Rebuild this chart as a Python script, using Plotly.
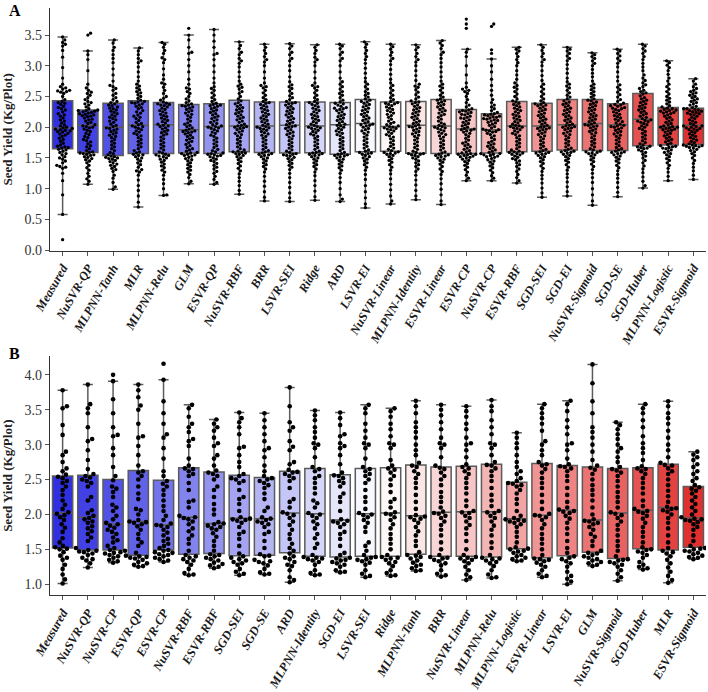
import plotly.graph_objects as go
import colorsys

# ---------------- categories ----------------
labels_A = ["Measured", "NuSVR-QP", "MLPNN-Tanh", "MLR", "MLPNN-Relu", "GLM", "ESVR-QP",
            "NuSVR-RBF", "BRR", "LSVR-SEI", "Ridge", "ARD", "LSVR-EI", "NuSVR-Linear",
            "MLPNN-Identity", "ESVR-Linear", "ESVR-CP", "NuSVR-CP", "ESVR-RBF", "SGD-SEI",
            "SGD-EI", "NuSVR-Sigmoid", "SGD-SE", "SGD-Huber", "MLPNN-Logistic", "ESVR-Sigmoid"]
labels_B = ["Measured", "NuSVR-QP", "NuSVR-CP", "ESVR-QP", "ESVR-CP", "NuSVR-RBF", "ESVR-RBF",
            "SGD-SEI", "SGD-SE", "ARD", "MLPNN-Identity", "SGD-EI", "LSVR-SEI", "Ridge",
            "MLPNN-Tanh", "BRR", "NuSVR-Linear", "MLPNN-Relu", "MLPNN-Logistic", "ESVR-Linear",
            "LSVR-EI", "GLM", "NuSVR-Sigmoid", "SGD-Huber", "MLR", "ESVR-Sigmoid"]

# ---------------- box statistics ----------------
lo_A = [0.58, 1.07, 0.99, 0.70, 0.89, 1.08, 1.07, 0.91, 0.80, 0.79, 0.81, 0.79, 0.685, 0.75,
        0.82, 0.74, 1.13, 1.13, 1.09, 0.86, 0.88, 0.73, 0.87, 1.01, 1.13, 1.15]
q1_A = [1.65, 1.59, 1.54, 1.57, 1.57, 1.58, 1.57, 1.60, 1.59, 1.58, 1.585, 1.56, 1.60, 1.61,
        1.575, 1.57, 1.57, 1.58, 1.60, 1.61, 1.63, 1.62, 1.62, 1.70, 1.71, 1.72]
med_A = [1.985, 2.03, 2.00, 2.03, 2.04, 1.96, 2.01, 2.02, 2.02, 2.03, 2.02, 2.04, 2.06, 2.01,
         2.03, 2.02, 1.97, 1.96, 2.02, 2.02, 2.04, 2.06, 2.04, 2.13, 2.01, 2.03]
q3_A = [2.43, 2.28, 2.39, 2.43, 2.40, 2.37, 2.38, 2.44, 2.41, 2.41, 2.41, 2.40, 2.45, 2.41,
        2.42, 2.45, 2.29, 2.22, 2.42, 2.39, 2.45, 2.45, 2.38, 2.55, 2.32, 2.31]
hi_A = [3.47, 3.24, 3.42, 3.29, 3.38, 3.50, 3.59, 3.39, 3.35, 3.36, 3.34, 3.35, 3.39, 3.35,
        3.34, 3.41, 3.27, 3.11, 3.30, 3.34, 3.30, 3.21, 3.27, 3.35, 3.08, 2.79]

lo_B = [1.01, 1.24, 1.31, 1.25, 1.32, 1.13, 1.23, 1.13, 1.14, 1.03, 1.13, 1.17, 1.10, 1.12,
        1.19, 1.11, 1.06, 1.09, 1.33, 1.10, 1.00, 1.26, 1.05, 1.21, 1.02, 1.36]
q1_B = [1.52, 1.49, 1.49, 1.415, 1.49, 1.43, 1.44, 1.41, 1.415, 1.45, 1.40, 1.39, 1.40, 1.40,
        1.43, 1.40, 1.40, 1.39, 1.51, 1.38, 1.41, 1.46, 1.37, 1.51, 1.49, 1.53]
med_B = [2.02, 1.96, 1.86, 1.90, 1.85, 1.96, 1.87, 1.945, 1.94, 2.02, 2.01, 1.92, 2.01, 2.02,
         1.98, 2.03, 2.04, 2.04, 1.94, 1.99, 2.06, 1.92, 2.02, 2.06, 2.10, 1.95]
q3_B = [2.55, 2.56, 2.50, 2.63, 2.49, 2.67, 2.61, 2.56, 2.53, 2.62, 2.66, 2.57, 2.66, 2.67,
        2.71, 2.68, 2.69, 2.72, 2.46, 2.73, 2.70, 2.68, 2.66, 2.67, 2.72, 2.40]
hi_B = [3.78, 3.86, 3.91, 3.86, 3.93, 3.57, 3.36, 3.46, 3.45, 3.82, 3.49, 3.46, 3.57, 3.52,
        3.63, 3.57, 3.55, 3.64, 3.17, 3.58, 3.63, 4.15, 3.32, 3.58, 3.62, 2.90]

# ---------------- individual points, panel A ----------------
a_measured = [0.17, 0.58, 0.90, 1.13, 1.25, 1.33, 1.35, 1.36, 1.38, 1.42, 1.45, 1.48, 1.50, 1.52, 1.55, 1.57, 1.59, 1.61, 1.63, 1.64,
              1.66, 1.67, 1.68, 1.69, 1.71, 1.74, 1.77, 1.80, 1.82, 1.85, 1.87, 1.89, 1.90, 1.92, 1.93, 1.94, 1.95, 1.96, 1.97, 1.98,
              1.99, 2.00, 2.02, 2.04, 2.07, 2.10, 2.12, 2.15, 2.18, 2.20, 2.22, 2.25, 2.28, 2.30, 2.32, 2.34, 2.37, 2.39, 2.40, 2.42,
              2.45, 2.50, 2.55, 2.57, 2.58, 2.59, 2.60, 2.62, 2.64, 2.66, 2.70, 2.80, 2.97, 3.14, 3.25, 3.32, 3.35, 3.38, 3.42, 3.47]
a_nusvr_qp = [1.07, 1.12, 1.16, 1.20, 1.25, 1.30, 1.34, 1.38, 1.42, 1.45, 1.47, 1.49, 1.51, 1.52, 1.54, 1.55, 1.56, 1.57, 1.58, 1.59,
              1.60, 1.62, 1.65, 1.68, 1.70, 1.73, 1.76, 1.78, 1.80, 1.83, 1.85, 1.88, 1.90, 1.93, 1.95, 1.97, 1.99, 2.00, 2.01, 2.02,
              2.04, 2.06, 2.08, 2.10, 2.12, 2.13, 2.15, 2.17, 2.18, 2.19, 2.20, 2.21, 2.22, 2.23, 2.24, 2.25, 2.26, 2.27, 2.27, 2.28,
              2.30, 2.33, 2.36, 2.38, 2.40, 2.42, 2.45, 2.48, 2.52, 2.55, 2.57, 2.60, 2.64, 2.70, 2.92, 3.10, 3.18, 3.24, 3.50, 3.53]
a_mlpnn_tanh = [0.99, 1.03, 1.10, 1.17, 1.22, 1.28, 1.31, 1.33, 1.36, 1.38, 1.40, 1.42, 1.44, 1.46, 1.48, 1.49, 1.50, 1.51, 1.52, 1.53,
                1.55, 1.57, 1.59, 1.62, 1.65, 1.68, 1.71, 1.74, 1.77, 1.80, 1.83, 1.85, 1.87, 1.89, 1.91, 1.93, 1.95, 1.97, 1.98, 1.99,
                2.01, 2.03, 2.05, 2.08, 2.10, 2.12, 2.14, 2.16, 2.18, 2.20, 2.22, 2.24, 2.26, 2.28, 2.30, 2.31, 2.33, 2.35, 2.36, 2.38,
                2.40, 2.42, 2.45, 2.48, 2.52, 2.55, 2.60, 2.63, 2.66, 2.68, 2.75, 2.85, 2.95, 3.05, 3.12, 3.18, 3.25, 3.30, 3.37, 3.42]
a_mlr = [0.70, 0.78, 0.88, 0.97, 1.05, 1.14, 1.22, 1.27, 1.29, 1.31, 1.35, 1.39, 1.42, 1.45, 1.48, 1.50, 1.52, 1.54, 1.55, 1.56,
         1.58, 1.60, 1.62, 1.65, 1.68, 1.71, 1.74, 1.77, 1.80, 1.83, 1.86, 1.88, 1.90, 1.92, 1.94, 1.96, 1.98, 2.00, 2.01, 2.02,
         2.04, 2.06, 2.08, 2.11, 2.14, 2.16, 2.18, 2.20, 2.23, 2.25, 2.27, 2.30, 2.32, 2.34, 2.36, 2.38, 2.39, 2.40, 2.41, 2.42,
         2.44, 2.47, 2.50, 2.53, 2.56, 2.58, 2.61, 2.64, 2.67, 2.70, 2.75, 2.82, 2.90, 2.98, 3.05, 3.08, 3.12, 3.18, 3.24, 3.29]
a_mlpnn_relu = [0.89, 0.90, 1.00, 1.08, 1.15, 1.22, 1.27, 1.30, 1.34, 1.37, 1.40, 1.43, 1.46, 1.48, 1.50, 1.52, 1.53, 1.54, 1.55, 1.56,
                1.58, 1.60, 1.63, 1.66, 1.69, 1.72, 1.75, 1.78, 1.81, 1.84, 1.87, 1.89, 1.91, 1.93, 1.95, 1.97, 1.99, 2.01, 2.02, 2.03,
                2.05, 2.07, 2.09, 2.11, 2.13, 2.15, 2.17, 2.19, 2.21, 2.23, 2.25, 2.27, 2.29, 2.31, 2.33, 2.35, 2.36, 2.37, 2.38, 2.39,
                2.41, 2.44, 2.47, 2.50, 2.55, 2.60, 2.65, 2.70, 2.72, 2.78, 2.85, 2.95, 3.05, 3.10, 3.13, 3.20, 3.25, 3.30, 3.35, 3.38]
a_glm = [1.08, 1.12, 1.18, 1.23, 1.27, 1.30, 1.33, 1.36, 1.39, 1.42, 1.45, 1.47, 1.49, 1.51, 1.53, 1.54, 1.55, 1.56, 1.57, 1.58,
         1.59, 1.61, 1.63, 1.65, 1.67, 1.70, 1.72, 1.75, 1.77, 1.79, 1.81, 1.83, 1.85, 1.87, 1.89, 1.91, 1.92, 1.93, 1.94, 1.95,
         1.97, 1.99, 2.01, 2.03, 2.05, 2.07, 2.10, 2.13, 2.16, 2.19, 2.21, 2.23, 2.25, 2.27, 2.29, 2.31, 2.33, 2.34, 2.35, 2.36,
         2.38, 2.40, 2.43, 2.46, 2.50, 2.55, 2.58, 2.62, 2.64, 2.70, 2.78, 2.90, 3.00, 3.10, 3.20, 3.22, 3.30, 3.42, 3.50, 3.61]
a_esvr_qp = [1.07, 1.10, 1.15, 1.20, 1.25, 1.28, 1.32, 1.35, 1.38, 1.41, 1.44, 1.46, 1.48, 1.50, 1.52, 1.53, 1.54, 1.55, 1.56, 1.57,
             1.58, 1.60, 1.62, 1.64, 1.67, 1.70, 1.73, 1.76, 1.79, 1.82, 1.85, 1.87, 1.90, 1.92, 1.94, 1.96, 1.98, 1.99, 2.00, 2.01,
             2.02, 2.04, 2.06, 2.08, 2.10, 2.12, 2.14, 2.16, 2.18, 2.20, 2.22, 2.24, 2.26, 2.28, 2.30, 2.32, 2.34, 2.35, 2.36, 2.37,
             2.39, 2.42, 2.45, 2.48, 2.52, 2.56, 2.60, 2.63, 2.66, 2.72, 2.80, 2.90, 3.00, 3.10, 3.18, 3.20, 3.30, 3.40, 3.50, 3.59]
a_nusvr_rbf = [0.91, 0.97, 1.05, 1.12, 1.18, 1.24, 1.29, 1.33, 1.37, 1.41, 1.44, 1.47, 1.50, 1.52, 1.54, 1.56, 1.57, 1.58, 1.59, 1.60,
               1.61, 1.63, 1.65, 1.68, 1.71, 1.74, 1.77, 1.80, 1.83, 1.86, 1.88, 1.90, 1.92, 1.94, 1.96, 1.98, 1.99, 2.00, 2.01, 2.02,
               2.03, 2.05, 2.08, 2.10, 2.12, 2.14, 2.16, 2.18, 2.20, 2.22, 2.24, 2.26, 2.28, 2.30, 2.32, 2.34, 2.36, 2.38, 2.40, 2.43,
               2.46, 2.50, 2.55, 2.58, 2.62, 2.65, 2.67, 2.70, 2.75, 2.82, 2.90, 2.98, 3.04, 3.08, 3.12, 3.18, 3.22, 3.28, 3.33, 3.39]
a_brr = [0.80, 0.86, 0.95, 1.04, 1.12, 1.20, 1.27, 1.32, 1.36, 1.39, 1.42, 1.45, 1.48, 1.50, 1.52, 1.54, 1.55, 1.56, 1.57, 1.58,
         1.60, 1.62, 1.64, 1.67, 1.70, 1.73, 1.76, 1.79, 1.82, 1.85, 1.87, 1.89, 1.91, 1.93, 1.95, 1.97, 1.98, 1.99, 2.00, 2.01,
         2.03, 2.05, 2.07, 2.09, 2.11, 2.13, 2.15, 2.17, 2.19, 2.21, 2.23, 2.25, 2.27, 2.29, 2.31, 2.33, 2.35, 2.37, 2.39, 2.40,
         2.42, 2.45, 2.48, 2.52, 2.56, 2.60, 2.64, 2.66, 2.68, 2.72, 2.80, 2.90, 3.00, 3.06, 3.10, 3.15, 3.20, 3.25, 3.30, 3.35]
a_lsvr_sei = [0.79, 0.85, 0.93, 1.02, 1.10, 1.18, 1.25, 1.31, 1.35, 1.38, 1.41, 1.44, 1.47, 1.49, 1.51, 1.53, 1.54, 1.55, 1.56, 1.57,
              1.59, 1.61, 1.63, 1.66, 1.69, 1.72, 1.75, 1.78, 1.81, 1.84, 1.86, 1.88, 1.90, 1.92, 1.94, 1.96, 1.98, 2.00, 2.01, 2.02,
              2.04, 2.06, 2.08, 2.10, 2.12, 2.14, 2.16, 2.18, 2.20, 2.22, 2.24, 2.26, 2.28, 2.30, 2.32, 2.34, 2.36, 2.38, 2.39, 2.40,
              2.42, 2.45, 2.48, 2.51, 2.55, 2.59, 2.63, 2.66, 2.69, 2.74, 2.82, 2.92, 3.00, 3.08, 3.12, 3.18, 3.22, 3.28, 3.32, 3.36]
a_ridge = [0.81, 0.87, 0.96, 1.05, 1.13, 1.21, 1.27, 1.32, 1.36, 1.39, 1.42, 1.45, 1.48, 1.50, 1.52, 1.54, 1.55, 1.56, 1.57, 1.58,
           1.59, 1.61, 1.64, 1.67, 1.70, 1.73, 1.76, 1.79, 1.82, 1.85, 1.87, 1.89, 1.91, 1.93, 1.95, 1.97, 1.98, 1.99, 2.00, 2.01,
           2.03, 2.05, 2.07, 2.09, 2.11, 2.13, 2.15, 2.17, 2.19, 2.21, 2.23, 2.25, 2.27, 2.29, 2.31, 2.33, 2.35, 2.37, 2.39, 2.40,
           2.42, 2.45, 2.48, 2.52, 2.56, 2.60, 2.64, 2.66, 2.68, 2.72, 2.80, 2.90, 3.00, 3.06, 3.10, 3.14, 3.20, 3.25, 3.30, 3.34]
a_ard = [0.79, 0.83, 0.90, 1.00, 1.10, 1.18, 1.25, 1.30, 1.34, 1.37, 1.40, 1.43, 1.46, 1.48, 1.50, 1.52, 1.53, 1.54, 1.55, 1.56,
         1.57, 1.59, 1.62, 1.65, 1.68, 1.71, 1.74, 1.77, 1.80, 1.83, 1.86, 1.88, 1.90, 1.92, 1.94, 1.96, 1.98, 2.00, 2.02, 2.03,
         2.05, 2.07, 2.09, 2.11, 2.13, 2.15, 2.17, 2.19, 2.21, 2.23, 2.25, 2.27, 2.29, 2.30, 2.31, 2.32, 2.34, 2.36, 2.38, 2.39,
         2.41, 2.44, 2.48, 2.52, 2.55, 2.58, 2.62, 2.66, 2.70, 2.74, 2.80, 2.90, 3.00, 3.08, 3.12, 3.18, 3.22, 3.28, 3.32, 3.35]
a_lsvr_ei = [0.69, 0.75, 0.85, 0.95, 1.05, 1.15, 1.23, 1.30, 1.35, 1.39, 1.42, 1.45, 1.48, 1.50, 1.52, 1.54, 1.56, 1.57, 1.58, 1.59,
             1.61, 1.63, 1.66, 1.69, 1.72, 1.75, 1.78, 1.81, 1.84, 1.87, 1.90, 1.92, 1.94, 1.96, 1.98, 2.00, 2.02, 2.03, 2.04, 2.05,
             2.07, 2.09, 2.11, 2.13, 2.15, 2.17, 2.19, 2.21, 2.23, 2.25, 2.27, 2.29, 2.31, 2.33, 2.35, 2.37, 2.39, 2.41, 2.42, 2.44,
             2.46, 2.49, 2.52, 2.55, 2.58, 2.62, 2.66, 2.70, 2.74, 2.80, 2.88, 2.96, 3.04, 3.10, 3.15, 3.20, 3.25, 3.30, 3.35, 3.39]
a_nusvr_linear = [0.75, 0.80, 0.88, 0.98, 1.07, 1.16, 1.24, 1.30, 1.35, 1.39, 1.43, 1.46, 1.49, 1.52, 1.54, 1.56, 1.57, 1.58, 1.59, 1.60,
                  1.62, 1.64, 1.66, 1.69, 1.72, 1.75, 1.78, 1.81, 1.84, 1.86, 1.88, 1.90, 1.92, 1.94, 1.96, 1.97, 1.98, 1.99, 2.00, 2.01,
                  2.02, 2.04, 2.06, 2.08, 2.10, 2.13, 2.16, 2.19, 2.21, 2.23, 2.25, 2.27, 2.29, 2.31, 2.33, 2.35, 2.37, 2.38, 2.39, 2.40,
                  2.42, 2.45, 2.48, 2.52, 2.56, 2.60, 2.64, 2.68, 2.72, 2.78, 2.86, 2.94, 3.02, 3.08, 3.12, 3.17, 3.22, 3.27, 3.31, 3.35]
a_mlpnn_identity = [0.82, 0.88, 0.97, 1.06, 1.14, 1.22, 1.28, 1.32, 1.36, 1.39, 1.42, 1.45, 1.48, 1.50, 1.52, 1.54, 1.55, 1.56, 1.57, 1.57,
                    1.59, 1.61, 1.64, 1.67, 1.70, 1.73, 1.76, 1.79, 1.82, 1.85, 1.87, 1.89, 1.91, 1.93, 1.95, 1.97, 1.99, 2.00, 2.01, 2.02,
                    2.04, 2.06, 2.08, 2.10, 2.12, 2.14, 2.16, 2.18, 2.20, 2.22, 2.24, 2.26, 2.28, 2.30, 2.32, 2.34, 2.36, 2.38, 2.40, 2.41,
                    2.43, 2.46, 2.49, 2.53, 2.57, 2.61, 2.65, 2.67, 2.70, 2.76, 2.84, 2.92, 3.00, 3.06, 3.10, 3.15, 3.20, 3.26, 3.30, 3.34]
a_esvr_linear = [0.74, 0.80, 0.90, 0.99, 1.08, 1.16, 1.23, 1.28, 1.32, 1.36, 1.40, 1.43, 1.46, 1.48, 1.50, 1.52, 1.53, 1.54, 1.55, 1.56,
                 1.58, 1.60, 1.63, 1.66, 1.69, 1.72, 1.75, 1.78, 1.81, 1.84, 1.86, 1.88, 1.90, 1.92, 1.94, 1.96, 1.98, 1.99, 2.00, 2.01,
                 2.03, 2.05, 2.07, 2.10, 2.13, 2.16, 2.19, 2.21, 2.23, 2.25, 2.27, 2.29, 2.31, 2.33, 2.35, 2.37, 2.39, 2.41, 2.43, 2.44,
                 2.46, 2.49, 2.52, 2.56, 2.60, 2.64, 2.67, 2.70, 2.75, 2.82, 2.90, 2.98, 3.05, 3.12, 3.18, 3.22, 3.28, 3.33, 3.37, 3.41]
a_esvr_cp = [1.13, 1.17, 1.22, 1.27, 1.31, 1.35, 1.38, 1.41, 1.44, 1.46, 1.48, 1.50, 1.51, 1.52, 1.53, 1.54, 1.55, 1.56, 1.56, 1.57,
             1.58, 1.60, 1.62, 1.64, 1.66, 1.68, 1.70, 1.72, 1.74, 1.76, 1.79, 1.82, 1.85, 1.88, 1.90, 1.92, 1.94, 1.95, 1.96, 1.97,
             1.98, 2.00, 2.02, 2.04, 2.06, 2.08, 2.10, 2.12, 2.14, 2.15, 2.16, 2.18, 2.20, 2.21, 2.22, 2.24, 2.25, 2.26, 2.27, 2.28,
             2.30, 2.33, 2.36, 2.40, 2.45, 2.50, 2.55, 2.58, 2.60, 2.62, 2.65, 2.72, 2.85, 3.00, 3.15, 3.22, 3.27, 3.61, 3.68, 3.76]
a_nusvr_cp = [1.13, 1.17, 1.21, 1.26, 1.30, 1.34, 1.37, 1.40, 1.43, 1.45, 1.47, 1.49, 1.51, 1.52, 1.53, 1.54, 1.55, 1.56, 1.57, 1.57,
              1.59, 1.61, 1.63, 1.65, 1.67, 1.69, 1.71, 1.73, 1.75, 1.77, 1.80, 1.83, 1.86, 1.88, 1.90, 1.92, 1.93, 1.94, 1.95, 1.96,
              1.97, 1.99, 2.01, 2.03, 2.05, 2.07, 2.08, 2.10, 2.11, 2.12, 2.13, 2.14, 2.15, 2.16, 2.17, 2.18, 2.19, 2.20, 2.21, 2.22,
              2.24, 2.27, 2.30, 2.33, 2.36, 2.40, 2.45, 2.52, 2.60, 2.68, 2.78, 2.90, 3.00, 3.11, 3.20, 3.26, 3.64, 3.68]
a_esvr_rbf = [1.09, 1.13, 1.18, 1.23, 1.28, 1.32, 1.36, 1.39, 1.42, 1.45, 1.47, 1.49, 1.51, 1.53, 1.55, 1.56, 1.57, 1.58, 1.59, 1.60,
              1.61, 1.63, 1.65, 1.68, 1.71, 1.74, 1.77, 1.80, 1.83, 1.86, 1.88, 1.90, 1.92, 1.94, 1.96, 1.98, 1.99, 2.00, 2.01, 2.02,
              2.03, 2.05, 2.07, 2.09, 2.11, 2.13, 2.15, 2.17, 2.19, 2.21, 2.23, 2.25, 2.27, 2.29, 2.31, 2.33, 2.35, 2.37, 2.39, 2.41,
              2.43, 2.46, 2.50, 2.54, 2.58, 2.62, 2.65, 2.68, 2.72, 2.78, 2.85, 2.92, 3.00, 3.05, 3.10, 3.15, 3.20, 3.24, 3.27, 3.30]
a_sgd_sei = [0.86, 0.93, 1.01, 1.09, 1.16, 1.22, 1.28, 1.33, 1.37, 1.41, 1.44, 1.47, 1.50, 1.52, 1.54, 1.56, 1.57, 1.58, 1.59, 1.60,
             1.62, 1.64, 1.66, 1.69, 1.72, 1.75, 1.78, 1.81, 1.84, 1.86, 1.88, 1.90, 1.92, 1.94, 1.96, 1.97, 1.98, 1.99, 2.00, 2.01,
             2.03, 2.05, 2.07, 2.09, 2.11, 2.13, 2.15, 2.17, 2.19, 2.21, 2.23, 2.25, 2.27, 2.29, 2.31, 2.33, 2.35, 2.36, 2.37, 2.38,
             2.40, 2.43, 2.46, 2.50, 2.54, 2.58, 2.62, 2.66, 2.70, 2.76, 2.84, 2.92, 3.00, 3.06, 3.10, 3.15, 3.20, 3.25, 3.30, 3.34]
a_sgd_ei = [0.88, 0.95, 1.03, 1.11, 1.18, 1.24, 1.30, 1.35, 1.39, 1.43, 1.46, 1.49, 1.52, 1.54, 1.56, 1.58, 1.59, 1.60, 1.61, 1.62,
            1.64, 1.66, 1.68, 1.71, 1.74, 1.77, 1.80, 1.83, 1.86, 1.88, 1.90, 1.92, 1.94, 1.96, 1.98, 1.99, 2.00, 2.01, 2.02, 2.03,
            2.05, 2.07, 2.09, 2.11, 2.13, 2.15, 2.17, 2.19, 2.21, 2.23, 2.25, 2.27, 2.29, 2.31, 2.33, 2.35, 2.37, 2.39, 2.41, 2.43,
            2.46, 2.49, 2.52, 2.56, 2.60, 2.64, 2.67, 2.70, 2.74, 2.80, 2.88, 2.95, 3.02, 3.08, 3.12, 3.16, 3.20, 3.24, 3.27, 3.30]
a_nusvr_sigmoid = [0.73, 0.80, 0.90, 1.00, 1.10, 1.18, 1.25, 1.31, 1.36, 1.40, 1.44, 1.47, 1.50, 1.53, 1.55, 1.57, 1.58, 1.59, 1.60, 1.61,
                   1.63, 1.65, 1.68, 1.71, 1.74, 1.77, 1.80, 1.83, 1.86, 1.89, 1.91, 1.93, 1.95, 1.97, 1.99, 2.01, 2.02, 2.03, 2.04, 2.05,
                   2.07, 2.09, 2.11, 2.13, 2.15, 2.17, 2.19, 2.21, 2.23, 2.25, 2.27, 2.29, 2.31, 2.33, 2.35, 2.37, 2.39, 2.41, 2.43, 2.44,
                   2.46, 2.49, 2.52, 2.55, 2.58, 2.61, 2.64, 2.67, 2.70, 2.75, 2.82, 2.88, 2.94, 3.00, 3.04, 3.08, 3.12, 3.15, 3.18, 3.21]
a_sgd_se = [0.87, 0.94, 1.02, 1.10, 1.17, 1.23, 1.29, 1.34, 1.38, 1.42, 1.45, 1.48, 1.51, 1.53, 1.55, 1.57, 1.58, 1.59, 1.60, 1.61,
            1.63, 1.65, 1.67, 1.70, 1.73, 1.76, 1.79, 1.82, 1.85, 1.87, 1.89, 1.91, 1.93, 1.95, 1.97, 1.99, 2.00, 2.01, 2.02, 2.03,
            2.05, 2.07, 2.09, 2.11, 2.13, 2.15, 2.17, 2.19, 2.21, 2.23, 2.25, 2.27, 2.29, 2.30, 2.31, 2.32, 2.34, 2.35, 2.36, 2.37,
            2.39, 2.42, 2.45, 2.49, 2.53, 2.57, 2.61, 2.65, 2.69, 2.75, 2.82, 2.90, 2.98, 3.04, 3.08, 3.12, 3.16, 3.20, 3.24, 3.27]
a_sgd_huber = [1.01, 1.05, 1.12, 1.19, 1.26, 1.32, 1.37, 1.42, 1.46, 1.50, 1.53, 1.56, 1.59, 1.61, 1.63, 1.65, 1.66, 1.67, 1.68, 1.69,
               1.71, 1.73, 1.75, 1.78, 1.81, 1.84, 1.87, 1.90, 1.93, 1.96, 1.98, 2.00, 2.02, 2.04, 2.06, 2.08, 2.09, 2.10, 2.11, 2.12,
               2.14, 2.16, 2.18, 2.20, 2.22, 2.24, 2.26, 2.28, 2.30, 2.32, 2.34, 2.36, 2.38, 2.40, 2.42, 2.44, 2.46, 2.48, 2.51, 2.54,
               2.56, 2.58, 2.60, 2.63, 2.66, 2.69, 2.72, 2.76, 2.80, 2.85, 2.92, 2.98, 3.04, 3.10, 3.15, 3.20, 3.24, 3.28, 3.32, 3.35]
a_mlpnn_logistic = [1.13, 1.20, 1.27, 1.33, 1.38, 1.42, 1.46, 1.49, 1.52, 1.55, 1.57, 1.59, 1.61, 1.63, 1.65, 1.66, 1.67, 1.68, 1.69, 1.70,
                    1.72, 1.74, 1.76, 1.78, 1.80, 1.82, 1.84, 1.86, 1.88, 1.90, 1.92, 1.94, 1.95, 1.96, 1.97, 1.98, 1.99, 2.00, 2.00, 2.01,
                    2.02, 2.04, 2.06, 2.08, 2.10, 2.12, 2.14, 2.16, 2.18, 2.20, 2.22, 2.23, 2.24, 2.25, 2.26, 2.27, 2.28, 2.29, 2.30, 2.31,
                    2.33, 2.35, 2.38, 2.41, 2.44, 2.47, 2.50, 2.54, 2.58, 2.62, 2.66, 2.70, 2.75, 2.80, 2.86, 2.92, 2.97, 3.01, 3.05, 3.08]
a_esvr_sigmoid = [1.15, 1.22, 1.29, 1.35, 1.41, 1.46, 1.50, 1.54, 1.57, 1.60, 1.62, 1.64, 1.66, 1.67, 1.68, 1.69, 1.70, 1.70, 1.71, 1.71,
                  1.73, 1.75, 1.77, 1.79, 1.81, 1.83, 1.85, 1.87, 1.89, 1.91, 1.93, 1.95, 1.96, 1.97, 1.98, 1.99, 2.00, 2.01, 2.02, 2.02,
                  2.04, 2.06, 2.08, 2.10, 2.12, 2.14, 2.16, 2.18, 2.20, 2.21, 2.22, 2.23, 2.24, 2.25, 2.26, 2.27, 2.28, 2.29, 2.30, 2.30,
                  2.32, 2.34, 2.36, 2.38, 2.40, 2.42, 2.44, 2.46, 2.48, 2.50, 2.52, 2.54, 2.56, 2.58, 2.60, 2.63, 2.66, 2.70, 2.75, 2.79]

# ---------------- individual points, panel B ----------------
b_measured = [1.01, 1.07, 1.14, 1.22, 1.28, 1.35, 1.38, 1.41, 1.46, 1.50, 1.51, 1.53, 1.55, 1.60, 1.66, 1.75, 1.81, 1.86, 1.92, 1.96, 1.99, 2.01,
              2.03, 2.08, 2.14, 2.20, 2.28, 2.35, 2.40, 2.45, 2.48, 2.52, 2.54, 2.57, 2.62, 2.66, 2.75, 2.85, 2.90, 3.14, 3.28, 3.52, 3.55, 3.78]
b_nusvr_qp = [1.24, 1.30, 1.34, 1.36, 1.38, 1.42, 1.44, 1.46, 1.47, 1.48, 1.49, 1.52, 1.62, 1.67, 1.72, 1.76, 1.80, 1.83, 1.88, 1.90, 1.93, 1.95,
              1.98, 2.02, 2.06, 2.20, 2.25, 2.40, 2.45, 2.48, 2.50, 2.53, 2.55, 2.58, 2.65, 2.78, 2.92, 3.05, 3.08, 3.25, 3.45, 3.52, 3.58, 3.86]
b_nusvr_cp = [1.31, 1.33, 1.35, 1.38, 1.40, 1.42, 1.44, 1.45, 1.46, 1.48, 1.49, 1.52, 1.55, 1.60, 1.63, 1.67, 1.72, 1.75, 1.78, 1.81, 1.84, 1.86,
              1.88, 1.93, 1.98, 2.05, 2.10, 2.14, 2.25, 2.32, 2.37, 2.40, 2.49, 2.55, 2.68, 2.85, 2.95, 3.12, 3.14, 3.25, 3.45, 3.65, 3.91, 4.00]
b_esvr_qp = [1.25, 1.26, 1.28, 1.30, 1.32, 1.35, 1.37, 1.38, 1.39, 1.40, 1.41, 1.45, 1.55, 1.60, 1.65, 1.72, 1.78, 1.83, 1.86, 1.88, 1.89, 1.90,
             1.92, 2.00, 2.06, 2.08, 2.22, 2.30, 2.40, 2.50, 2.55, 2.60, 2.62, 2.70, 2.85, 2.98, 3.10, 3.12, 3.30, 3.50, 3.56, 3.68, 3.78, 3.86]
b_esvr_cp = [1.32, 1.34, 1.36, 1.38, 1.40, 1.42, 1.43, 1.45, 1.46, 1.48, 1.49, 1.52, 1.55, 1.58, 1.62, 1.65, 1.70, 1.74, 1.78, 1.82, 1.84, 1.85,
             1.87, 1.92, 1.98, 2.05, 2.12, 2.20, 2.28, 2.35, 2.40, 2.44, 2.48, 2.55, 2.62, 2.80, 2.95, 3.10, 3.15, 3.30, 3.45, 3.62, 3.93, 4.16]
b_nusvr_rbf = [1.13, 1.14, 1.16, 1.22, 1.28, 1.32, 1.34, 1.36, 1.38, 1.40, 1.42, 1.48, 1.58, 1.65, 1.70, 1.76, 1.80, 1.86, 1.90, 1.93, 1.95, 1.96,
               1.98, 2.10, 2.18, 2.20, 2.35, 2.45, 2.55, 2.58, 2.62, 2.65, 2.66, 2.70, 2.80, 2.98, 3.05, 3.08, 3.18, 3.25, 3.30, 3.40, 3.52, 3.57]
b_esvr_rbf = [1.23, 1.25, 1.27, 1.29, 1.31, 1.34, 1.36, 1.38, 1.40, 1.42, 1.43, 1.48, 1.55, 1.62, 1.68, 1.73, 1.78, 1.80, 1.82, 1.84, 1.86, 1.87,
              1.89, 2.00, 2.07, 2.15, 2.25, 2.35, 2.40, 2.50, 2.55, 2.58, 2.60, 2.63, 2.70, 2.80, 2.85, 2.98, 3.02, 3.10, 3.20, 3.25, 3.30, 3.36]
b_sgd_sei = [1.13, 1.15, 1.18, 1.22, 1.28, 1.30, 1.32, 1.34, 1.36, 1.38, 1.40, 1.44, 1.55, 1.65, 1.72, 1.75, 1.82, 1.88, 1.91, 1.92, 1.93, 1.94,
             1.96, 2.05, 2.15, 2.22, 2.25, 2.35, 2.45, 2.48, 2.50, 2.52, 2.55, 2.58, 2.68, 2.75, 2.85, 2.95, 2.97, 3.15, 3.25, 3.32, 3.38, 3.46]
b_sgd_se = [1.14, 1.15, 1.17, 1.22, 1.27, 1.30, 1.32, 1.33, 1.35, 1.40, 1.41, 1.43, 1.52, 1.62, 1.72, 1.75, 1.82, 1.86, 1.88, 1.90, 1.92, 1.94,
            1.96, 2.05, 2.10, 2.22, 2.30, 2.38, 2.42, 2.45, 2.48, 2.50, 2.52, 2.55, 2.62, 2.70, 2.82, 2.92, 2.95, 3.05, 3.15, 3.25, 3.35, 3.45]
b_ard = [1.03, 1.06, 1.10, 1.20, 1.26, 1.28, 1.32, 1.36, 1.38, 1.40, 1.44, 1.48, 1.52, 1.58, 1.65, 1.72, 1.78, 1.85, 1.90, 1.95, 1.99, 2.01,
         2.03, 2.10, 2.18, 2.22, 2.38, 2.48, 2.52, 2.55, 2.58, 2.60, 2.61, 2.64, 2.72, 2.75, 2.92, 2.97, 3.05, 3.20, 3.25, 3.32, 3.55, 3.82]
b_mlpnn_identity = [1.13, 1.14, 1.16, 1.20, 1.28, 1.32, 1.34, 1.36, 1.37, 1.38, 1.39, 1.42, 1.52, 1.58, 1.66, 1.72, 1.80, 1.86, 1.90, 1.95, 1.98, 2.00,
                    2.02, 2.10, 2.16, 2.20, 2.30, 2.38, 2.45, 2.52, 2.55, 2.62, 2.65, 2.68, 2.82, 2.95, 3.00, 3.02, 3.10, 3.18, 3.25, 3.35, 3.42, 3.49]
b_sgd_ei = [1.17, 1.18, 1.20, 1.25, 1.28, 1.30, 1.32, 1.34, 1.35, 1.37, 1.38, 1.42, 1.45, 1.55, 1.65, 1.72, 1.75, 1.82, 1.86, 1.88, 1.90, 1.91,
            1.93, 2.05, 2.18, 2.25, 2.30, 2.40, 2.45, 2.48, 2.52, 2.55, 2.56, 2.60, 2.72, 2.85, 2.95, 2.98, 3.02, 3.12, 3.15, 3.28, 3.38, 3.46]
b_lsvr_sei = [1.10, 1.12, 1.15, 1.20, 1.28, 1.31, 1.33, 1.35, 1.36, 1.38, 1.39, 1.42, 1.48, 1.55, 1.60, 1.75, 1.82, 1.88, 1.92, 1.96, 1.99, 2.00,
              2.02, 2.08, 2.18, 2.25, 2.35, 2.45, 2.50, 2.55, 2.58, 2.62, 2.65, 2.68, 2.80, 2.95, 3.00, 3.02, 3.10, 3.20, 3.30, 3.45, 3.52, 3.57]
b_ridge = [1.12, 1.13, 1.16, 1.20, 1.26, 1.30, 1.32, 1.35, 1.37, 1.38, 1.39, 1.42, 1.50, 1.58, 1.65, 1.72, 1.80, 1.86, 1.92, 1.96, 2.00, 2.01,
           2.03, 2.10, 2.18, 2.22, 2.32, 2.42, 2.50, 2.55, 2.60, 2.64, 2.66, 2.70, 2.78, 2.95, 3.00, 3.02, 3.12, 3.22, 3.30, 3.40, 3.48, 3.52]
b_mlpnn_tanh = [1.19, 1.20, 1.23, 1.26, 1.28, 1.31, 1.34, 1.37, 1.39, 1.41, 1.42, 1.46, 1.55, 1.62, 1.70, 1.76, 1.82, 1.88, 1.92, 1.94, 1.96, 1.97,
                1.99, 2.08, 2.18, 2.28, 2.38, 2.45, 2.52, 2.58, 2.62, 2.68, 2.70, 2.74, 2.85, 2.92, 3.00, 3.10, 3.18, 3.25, 3.32, 3.45, 3.55, 3.63]
b_brr = [1.11, 1.13, 1.15, 1.20, 1.27, 1.30, 1.33, 1.35, 1.37, 1.38, 1.39, 1.42, 1.50, 1.60, 1.70, 1.78, 1.85, 1.90, 1.95, 1.98, 2.01, 2.02,
         2.04, 2.10, 2.18, 2.25, 2.32, 2.42, 2.50, 2.55, 2.60, 2.65, 2.67, 2.70, 2.82, 2.95, 3.00, 3.02, 3.10, 3.22, 3.32, 3.42, 3.50, 3.57]
b_nusvr_linear = [1.06, 1.10, 1.14, 1.20, 1.25, 1.30, 1.33, 1.35, 1.37, 1.38, 1.39, 1.42, 1.50, 1.62, 1.72, 1.80, 1.85, 1.90, 1.95, 1.98, 2.02, 2.03,
                  2.05, 2.12, 2.20, 2.30, 2.38, 2.45, 2.52, 2.58, 2.62, 2.66, 2.68, 2.72, 2.82, 2.92, 3.00, 3.02, 3.10, 3.22, 3.30, 3.40, 3.48, 3.55]
b_mlpnn_relu = [1.09, 1.10, 1.14, 1.20, 1.26, 1.30, 1.32, 1.34, 1.36, 1.37, 1.38, 1.42, 1.52, 1.60, 1.70, 1.78, 1.84, 1.90, 1.95, 1.98, 2.02, 2.03,
                2.05, 2.12, 2.20, 2.28, 2.38, 2.48, 2.55, 2.62, 2.66, 2.70, 2.71, 2.75, 2.85, 2.95, 3.00, 3.02, 3.15, 3.25, 3.35, 3.48, 3.55, 3.64]
b_mlpnn_logistic = [1.33, 1.34, 1.36, 1.38, 1.40, 1.42, 1.45, 1.47, 1.48, 1.50, 1.51, 1.53, 1.60, 1.68, 1.75, 1.82, 1.86, 1.88, 1.90, 1.91, 1.92, 1.93,
                    1.95, 1.98, 2.05, 2.15, 2.22, 2.30, 2.35, 2.40, 2.42, 2.44, 2.45, 2.48, 2.52, 2.58, 2.62, 2.68, 2.75, 2.85, 2.95, 3.02, 3.10, 3.17]
b_esvr_linear = [1.10, 1.12, 1.15, 1.20, 1.25, 1.28, 1.31, 1.33, 1.35, 1.36, 1.37, 1.42, 1.50, 1.58, 1.65, 1.72, 1.80, 1.86, 1.92, 1.96, 1.98, 1.99,
                 2.01, 2.08, 2.18, 2.28, 2.38, 2.45, 2.52, 2.60, 2.65, 2.70, 2.72, 2.75, 2.85, 2.92, 3.00, 3.05, 3.20, 3.30, 3.38, 3.45, 3.52, 3.58]
b_lsvr_ei = [1.00, 1.04, 1.08, 1.12, 1.18, 1.25, 1.30, 1.33, 1.36, 1.38, 1.40, 1.45, 1.52, 1.62, 1.72, 1.80, 1.88, 1.94, 1.98, 2.02, 2.04, 2.05,
             2.07, 2.10, 2.18, 2.28, 2.38, 2.48, 2.55, 2.62, 2.66, 2.68, 2.69, 2.72, 2.80, 2.92, 3.00, 3.02, 3.15, 3.25, 3.35, 3.48, 3.58, 3.63]
b_glm = [1.26, 1.28, 1.30, 1.32, 1.34, 1.36, 1.38, 1.40, 1.42, 1.44, 1.45, 1.48, 1.55, 1.62, 1.68, 1.72, 1.78, 1.82, 1.86, 1.88, 1.90, 1.91,
         1.93, 2.00, 2.10, 2.20, 2.28, 2.35, 2.42, 2.50, 2.58, 2.64, 2.67, 2.70, 2.78, 2.90, 3.00, 3.10, 3.18, 3.25, 3.45, 3.62, 3.88, 4.15]
b_nusvr_sigmoid = [1.05, 1.10, 1.15, 1.20, 1.25, 1.28, 1.30, 1.32, 1.34, 1.35, 1.36, 1.40, 1.48, 1.55, 1.62, 1.70, 1.78, 1.85, 1.90, 1.95, 1.99, 2.01,
                   2.03, 2.10, 2.18, 2.25, 2.32, 2.40, 2.48, 2.55, 2.60, 2.63, 2.65, 2.68, 2.75, 2.82, 2.90, 2.95, 3.00, 3.08, 3.15, 3.22, 3.28, 3.32]
b_sgd_huber = [1.21, 1.23, 1.25, 1.28, 1.32, 1.38, 1.42, 1.45, 1.47, 1.49, 1.50, 1.53, 1.60, 1.68, 1.75, 1.82, 1.88, 1.94, 1.98, 2.02, 2.04, 2.05,
               2.08, 2.12, 2.20, 2.30, 2.38, 2.45, 2.52, 2.58, 2.62, 2.65, 2.66, 2.69, 2.78, 2.88, 2.95, 3.02, 3.12, 3.25, 3.35, 3.45, 3.52, 3.58]
b_mlr = [1.02, 1.06, 1.12, 1.18, 1.24, 1.30, 1.35, 1.40, 1.44, 1.46, 1.48, 1.52, 1.60, 1.70, 1.80, 1.88, 1.95, 2.00, 2.04, 2.06, 2.08, 2.09,
         2.11, 2.18, 2.26, 2.34, 2.42, 2.50, 2.58, 2.62, 2.66, 2.70, 2.71, 2.74, 2.82, 2.92, 3.00, 3.10, 3.20, 3.30, 3.38, 3.45, 3.55, 3.62]
b_esvr_sigmoid = [1.36, 1.38, 1.39, 1.41, 1.43, 1.45, 1.47, 1.48, 1.50, 1.51, 1.52, 1.55, 1.62, 1.70, 1.78, 1.82, 1.86, 1.89, 1.91, 1.92, 1.93, 1.94,
                  1.96, 2.00, 2.05, 2.10, 2.15, 2.20, 2.25, 2.30, 2.34, 2.37, 2.39, 2.42, 2.48, 2.52, 2.58, 2.62, 2.68, 2.72, 2.78, 2.82, 2.86, 2.90]

points_A = [a_measured, a_nusvr_qp, a_mlpnn_tanh, a_mlr, a_mlpnn_relu, a_glm, a_esvr_qp, a_nusvr_rbf,
            a_brr, a_lsvr_sei, a_ridge, a_ard, a_lsvr_ei, a_nusvr_linear, a_mlpnn_identity, a_esvr_linear,
            a_esvr_cp, a_nusvr_cp, a_esvr_rbf, a_sgd_sei, a_sgd_ei, a_nusvr_sigmoid, a_sgd_se, a_sgd_huber,
            a_mlpnn_logistic, a_esvr_sigmoid]
points_B = [b_measured, b_nusvr_qp, b_nusvr_cp, b_esvr_qp, b_esvr_cp, b_nusvr_rbf, b_esvr_rbf, b_sgd_sei,
            b_sgd_se, b_ard, b_mlpnn_identity, b_sgd_ei, b_lsvr_sei, b_ridge, b_mlpnn_tanh, b_brr,
            b_nusvr_linear, b_mlpnn_relu, b_mlpnn_logistic, b_esvr_linear, b_lsvr_ei, b_glm, b_nusvr_sigmoid,
            b_sgd_huber, b_mlr, b_esvr_sigmoid]

# ---------------- styling / geometry ----------------
W, H = 708, 692
X_L, X_R = 50, 706
A_TOP, A_BOT = 8, 250.7
B_TOP, B_BOT = 356, 595.3
RANGE_A = [-0.01, 3.94]
RANGE_B = [0.842, 4.27]
XR = [-0.5, 25.5]
FONT = "Liberation Serif, Times New Roman, serif"


def bwr_palette(n, sat=0.75):
    cols = []
    for i in range(n):
        t = (i + 1) / (n + 1)
        if t < 0.5:
            r = g = 2 * t
            b = 1.0
        else:
            r = 1.0
            g = b = 2 * (1 - t)
        h, l, s = colorsys.rgb_to_hls(r, g, b)
        r, g, b = colorsys.hls_to_rgb(h, l, s * sat)
        cols.append("rgb(%d,%d,%d)" % (round(r * 255), round(g * 255), round(b * 255)))
    return cols


def swarm(vals, px_y, px_x, d):
    order = sorted(range(len(vals)), key=lambda k: vals[k])
    placed = []
    offs = [0.0] * len(vals)
    for k in order:
        y = vals[k] * px_y
        neigh = [(px, py) for (px, py) in placed if abs(py - y) < d]
        cands = [0.0]
        for px, py in neigh:
            dx = (d * d - (py - y) ** 2) ** 0.5
            cands += [px + dx, px - dx]
        cands.sort(key=abs)
        chosen = cands[-1]
        for c in cands:
            if all((c - px) ** 2 + (y - py) ** 2 >= d * d - 1e-6 for px, py in neigh):
                chosen = c
                break
        placed.append((chosen, y))
        offs[k] = chosen / px_x
    return offs


colors = bwr_palette(26)
fig = go.Figure()

panels = [
    dict(lo=lo_A, q1=q1_A, med=med_A, q3=q3_A, hi=hi_A, pts=points_A, xa="x", ya="y",
         rng=RANGE_A, top=A_TOP, bot=A_BOT, d=3.3, ms=3.3),
    dict(lo=lo_B, q1=q1_B, med=med_B, q3=q3_B, hi=hi_B, pts=points_B, xa="x2", ya="y2",
         rng=RANGE_B, top=B_TOP, bot=B_BOT, d=4.8, ms=4.6),
]

px_x = (X_R - X_L) / (XR[1] - XR[0])
for p in panels:
    px_y = (p["bot"] - p["top"]) / (p["rng"][1] - p["rng"][0])
    for i in range(26):
        fig.add_trace(go.Box(
            x=[i], q1=[p["q1"][i]], median=[p["med"][i]], q3=[p["q3"][i]],
            lowerfence=[p["lo"][i]], upperfence=[p["hi"][i]],
            width=0.8, whiskerwidth=0.5, fillcolor=colors[i],
            line=dict(color="#5b5b5b", width=1.5), boxpoints=False,
            showlegend=False, hoverinfo="skip", xaxis=p["xa"], yaxis=p["ya"]))
    xs, ys = [], []
    for i, vals in enumerate(p["pts"]):
        offs = swarm(vals, px_y, px_x, p["d"])
        xs += [i + o for o in offs]
        ys += list(vals)
    fig.add_trace(go.Scatter(x=xs, y=ys, mode="markers",
                             marker=dict(color="black", size=p["ms"], line=dict(width=0)),
                             showlegend=False, hoverinfo="skip", xaxis=p["xa"], yaxis=p["ya"]))

xdom = [X_L / W, X_R / W]
axis_common = dict(showgrid=False, zeroline=False, showline=True, linecolor="#333333", linewidth=1.2,
                   ticks="outside", ticklen=4, tickwidth=1, tickcolor="#555555", automargin=False)
xtick_font = dict(family=FONT, size=12.5, color="#1a1a1a", weight="bold", style="italic")
ytick_font = dict(family=FONT, size=14, color="#333333")
title_font = dict(family=FONT, size=13, color="#222222", weight="bold")

fig.update_layout(
    template="none",
    width=W, height=H, margin=dict(l=0, r=0, t=0, b=0, autoexpand=False),
    plot_bgcolor="white", paper_bgcolor="white", boxmode="overlay", showlegend=False,
    xaxis=dict(domain=xdom, range=XR, tickmode="array", tickvals=list(range(26)), ticktext=labels_A,
               tickangle=-60, tickfont=xtick_font, anchor="y", **axis_common),
    yaxis=dict(domain=[1 - A_BOT / H, 1 - A_TOP / H], range=RANGE_A, tickmode="array",
               tickvals=[0, 0.5, 1, 1.5, 2, 2.5, 3, 3.5],
               ticktext=["0.0", "0.5", "1.0", "1.5", "2.0", "2.5", "3.0", "3.5"], tickfont=ytick_font,
               title=dict(text="Seed Yield (Kg/Plot)", font=title_font, standoff=11), anchor="x", **axis_common),
    xaxis2=dict(domain=xdom, range=XR, tickmode="array", tickvals=list(range(26)), ticktext=labels_B,
                tickangle=-60, tickfont=xtick_font, anchor="y2", **axis_common),
    yaxis2=dict(domain=[1 - B_BOT / H, 1 - B_TOP / H], range=RANGE_B, tickmode="array",
                tickvals=[1, 1.5, 2, 2.5, 3, 3.5, 4],
                ticktext=["1.0", "1.5", "2.0", "2.5", "3.0", "3.5", "4.0"], tickfont=ytick_font,
                title=dict(text="Seed Yield (Kg/Plot)", font=title_font, standoff=11), anchor="x2", **axis_common),
    annotations=[
        dict(text="<b>A</b>", x=7 / W, y=1 - 0 / H, xref="paper", yref="paper", xanchor="left", yanchor="top",
             showarrow=False, font=dict(family=FONT, size=16, color="black")),
        dict(text="<b>B</b>", x=7 / W, y=1 - 343 / H, xref="paper", yref="paper", xanchor="left", yanchor="top",
             showarrow=False, font=dict(family=FONT, size=16, color="black")),
    ],
)

fig.write_html("out.html", config={"displayModeBar": False},
               post_script="document.body.style.margin='0px';")
